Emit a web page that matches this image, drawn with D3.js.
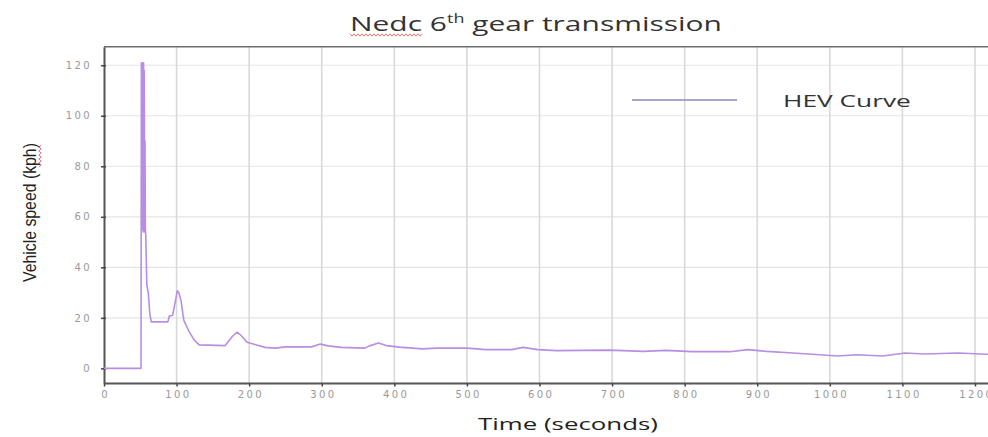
<!DOCTYPE html>
<html>
<head>
<meta charset="utf-8">
<script src="https://cdn.jsdelivr.net/npm/d3@7"></script>
<style>
    body { margin: 0; background: #fff; }
    svg { display: block; }
</style>
</head>
<body>
<script>
// time (s) and vehicle speed (kph)
const timeSec = [0, 51, 51.5, 52, 52.5, 53, 53.5, 54, 54.5, 55, 55.5, 56, 56.5, 57, 57.5, 59, 61, 63, 65,
    88, 90, 94.5, 98, 101, 103, 106, 110, 117, 124, 131, 167, 177, 183.5, 190, 197, 209, 222, 236,
    250, 268, 286, 298, 309, 327, 359, 366, 378, 389, 407, 438, 459, 500, 526, 562, 577, 598, 624,
    696, 743, 774, 810, 862, 887, 913, 949, 986, 1011, 1037, 1073, 1104, 1130, 1176, 1216, 1240];
const speedKph = [0, 0, 121, 55, 121, 60, 120, 54, 121, 58, 118, 54, 90, 55, 53, 33, 30, 22, 18.4,
    18.4, 20.7, 21, 26, 30.7, 30, 27, 19, 14.7, 11.3, 9.3, 9, 12.7, 14.3, 12.7, 10.3, 9.3, 8.3, 8,
    8.5, 8.5, 8.5, 9.6, 8.9, 8.3, 8, 8.9, 10, 9, 8.4, 7.7, 8, 8, 7.4, 7.4, 8.3, 7.4, 7,
    7.2, 6.7, 7.1, 6.6, 6.6, 7.4, 6.7, 6.1, 5.4, 4.9, 5.4, 4.9, 6.1, 5.7, 6.1, 5.6, 5.6];
const xTicks = [0, 100, 200, 300, 400, 500, 600, 700, 800, 900, 1000, 1100, 1200];
const yTicks = [0, 20, 40, 60, 80, 100, 120];
const seriesName = "HEV Curve";

const W = 988, H = 437;
const svg = d3.select("body").append("svg").attr("width", W).attr("height", H);

const x = d3.scaleLinear().domain([0, 1200]).range([104, 975]);
const y = d3.scaleLinear().domain([-6, 127.3]).range([383.5, 46.8]);

// stretch a text to a wanted width (the picture's text is widened)
function fitWidth(sel, wanted) {
    let w = sel.node().getComputedTextLength();
    let x0 = +sel.attr("x"), y0 = +sel.attr("y");
    sel.attr("transform", `translate(${x0},${y0}) scale(${wanted / w},1) translate(${-x0},${-y0})`);
}

// grid
svg.append("g").selectAll("line")
    .data(yTicks.filter(d => d > 0))
    .join("line")
    .attr("x1", x(0)).attr("x2", W)
    .attr("y1", d => y(d)).attr("y2", d => y(d))
    .attr("stroke", "#e4e4e4").attr("stroke-width", 1.2);
svg.append("g").selectAll("line")
    .data(xTicks.filter(d => d > 0))
    .join("line")
    .attr("x1", d => x(d)).attr("x2", d => x(d))
    .attr("y1", y.range()[1]).attr("y2", y.range()[0])
    .attr("stroke", "#d9d9d9").attr("stroke-width", 1.6);

// top border
svg.append("line")
    .attr("x1", x(0)).attr("x2", W)
    .attr("y1", y.range()[1]).attr("y2", y.range()[1])
    .attr("stroke", "#6e6e6e").attr("stroke-width", 1.5);

// axes
let xAxis = svg.append("g")
    .attr("transform", `translate(0,${y.range()[0]})`)
    .call(d3.axisBottom(x).tickValues(xTicks).tickFormat(d3.format("d")).tickSize(3).tickSizeOuter(0));
xAxis.select(".domain").attr("d", `M${x(0)},0H${W}`);
let yAxis = svg.append("g")
    .attr("transform", `translate(${x(0)},0)`)
    .call(d3.axisLeft(y).tickValues(yTicks).tickFormat(d3.format("d")).tickSize(3).tickSizeOuter(0));

[xAxis, yAxis].forEach(a => {
    a.select(".domain").attr("stroke", "#555").attr("stroke-width", 2);
    a.selectAll(".tick line").attr("stroke", "#444").attr("stroke-width", 1.5);
    a.selectAll(".tick text")
        .attr("fill", "#999")
        .style("font-family", "DejaVu Sans")
        .style("font-size", "10px")
        .style("letter-spacing", "2.4px");
});
xAxis.selectAll(".tick text").attr("y", 7).attr("dx", "1.2px");
yAxis.selectAll(".tick text").attr("x", -12);
yAxis.selectAll(".tick line").attr("x2", -3).attr("x1", 2);

// the curve
const line = d3.line().x((d, i) => x(timeSec[i])).y(d => y(d));
svg.append("path")
    .datum(speedKph)
    .attr("d", line)
    .attr("fill", "none")
    .attr("stroke", "#b88ee2")
    .attr("stroke-width", 1.6)
    .attr("stroke-linejoin", "round");

// title
let title = svg.append("text")
    .attr("x", 350).attr("y", 31)
    .attr("fill", "#333")
    .style("font-family", "Open Sans")
    .style("font-size", "20px");
title.append("tspan").text("Nedc 6");
title.append("tspan").text("th").attr("dy", -8).style("font-size", "12px");
title.append("tspan").text(" gear transmission").attr("dy", 8);
fitWidth(title, 372);

// red spell-check squiggles
function squiggle(x0, x1, yy) {
    let pts = d3.range(x0, x1, 2).map((v, i) => [v, yy + (i % 2 ? 1.2 : -1.2)]);
    return d3.line()(pts);
}
svg.append("path").attr("d", squiggle(350, 424, 35))
    .attr("fill", "none").attr("stroke", "#e05050").attr("stroke-width", 0.8);

// legend
svg.append("line")
    .attr("x1", 632).attr("x2", 737).attr("y1", 100).attr("y2", 100)
    .attr("stroke", "#a9a4c8").attr("stroke-width", 2);
let legendText = svg.append("text")
    .attr("x", 783).attr("y", 107)
    .attr("fill", "#333")
    .style("font-family", "Open Sans")
    .style("font-size", "17px")
    .text(seriesName);
fitWidth(legendText, 128);

// axis titles
let xTitle = svg.append("text")
    .attr("x", 478).attr("y", 430)
    .attr("fill", "#222")
    .style("font-family", "Open Sans")
    .style("font-size", "16px")
    .text("Time (seconds)");
fitWidth(xTitle, 180);

let yTitle = svg.append("g").attr("transform", "translate(36,282) rotate(-90)");
let yText = yTitle.append("text")
    .attr("x", 0).attr("y", 0)
    .attr("fill", "#222")
    .style("font-family", "Liberation Sans Narrow, Liberation Sans")
    .style("font-size", "18px")
    .text("Vehicle speed (kph)");
fitWidth(yText, 139);
yTitle.append("path").attr("d", squiggle(115, 139, 4))
    .attr("fill", "none").attr("stroke", "#e05050").attr("stroke-width", 0.8);
</script>
</body>
</html>
